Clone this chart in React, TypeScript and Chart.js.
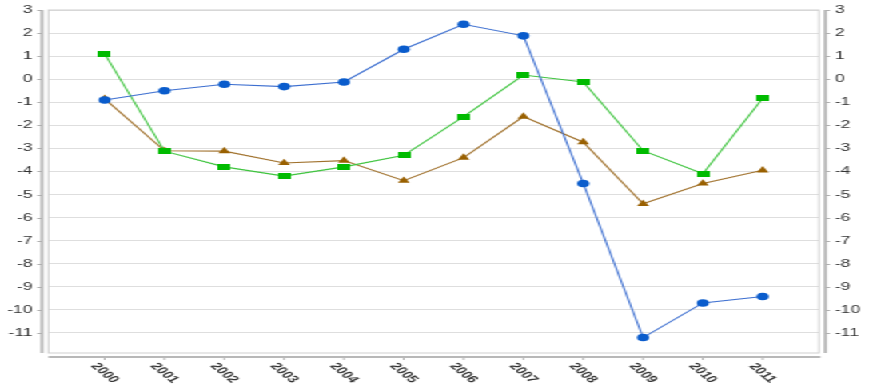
import React, { useEffect, useRef } from "react";
import { Chart, registerables } from "chart.js";

Chart.register(...registerables);

const years = ["2000", "2001", "2002", "2003", "2004", "2005", "2006", "2007", "2008", "2009", "2010", "2011"];
const blueValues = [-0.9, -0.5, -0.22, -0.32, -0.12, 1.3, 2.38, 1.88, -4.52, -11.2, -9.7, -9.42];
const greenValues = [1.1, -3.12, -3.8, -4.2, -3.8, -3.3, -1.62, 0.18, -0.12, -3.1, -4.1, -0.83];
const brownValues = [-0.85, -3.1, -3.12, -3.63, -3.53, -4.4, -3.4, -1.62, -2.73, -5.4, -4.52, -3.95];
const yTicks = [3, 2, 1, 0, -1, -2, -3, -4, -5, -6, -7, -8, -9, -10, -11];

const W = 546;
const H = 390;
const STRETCH = 873 / W;

function rectMarker(w: number, h: number, color: string) {
  const c = document.createElement("canvas");
  c.width = w;
  c.height = h;
  const ctx = c.getContext("2d")!;
  ctx.fillStyle = color;
  ctx.fillRect(0, 0, w, h);
  return c;
}

const framePlugin = {
  id: "frame",
  beforeDatasetsDraw(chart: any) {
    const { ctx, chartArea } = chart;
    const { left, right, top, bottom } = chartArea;
    const x = chart.scales.x;
    const y = chart.scales.y;
    ctx.save();
    ctx.strokeStyle = "#cfcfcf";
    ctx.lineWidth = 1;
    ctx.strokeRect(left, top, right - left, bottom - top);
    ctx.strokeStyle = "#b8b8b8";
    ctx.lineWidth = 2;
    ctx.beginPath();
    ctx.moveTo(left - 4, top);
    ctx.lineTo(left - 4, bottom);
    ctx.moveTo(right + 4, top);
    ctx.lineTo(right + 4, bottom);
    ctx.moveTo(left, bottom + 4);
    ctx.lineTo(right + 1, bottom + 4);
    ctx.stroke();
    ctx.lineWidth = 1;
    ctx.strokeStyle = "#b0b0b0";
    ctx.beginPath();
    yTicks.forEach((v) => {
      const py = Math.round(y.getPixelForValue(v)) + 0.5;
      ctx.moveTo(left - 7, py);
      ctx.lineTo(left - 4, py);
      ctx.moveTo(right + 4, py);
      ctx.lineTo(right + 7, py);
    });
    years.forEach((_, i) => {
      const px = x.getPixelForValue(i);
      ctx.moveTo(px, bottom + 5);
      ctx.lineTo(px, bottom + 7);
    });
    ctx.stroke();
    ctx.restore();
  },
  afterDraw(chart: any) {
    const { ctx, chartArea } = chart;
    const x = chart.scales.x;
    ctx.save();
    ctx.fillStyle = "#333";
    ctx.font = "bold 10px 'Liberation Sans', Arial, sans-serif";
    ctx.textAlign = "center";
    ctx.textBaseline = "middle";
    years.forEach((label, i) => {
      const px = x.getPixelForValue(i);
      ctx.save();
      ctx.translate(px, chartArea.bottom + 20);
      ctx.rotate((52 * Math.PI) / 180);
      ctx.fillText(label, 0, 0);
      ctx.restore();
    });
    ctx.restore();
  },
};

export default function App() {
  const ref = useRef<HTMLCanvasElement>(null);
  useEffect(() => {
    const canvas = ref.current!;
    const toPts = (arr: number[]) => arr.map((v, i) => ({ x: i, y: v }));
    const yCommon = {
      type: "linear" as const,
      min: -11.87,
      max: 3,
      afterBuildTicks: (scale: any) => {
        scale.ticks = yTicks.map((v) => ({ value: v }));
      },
      border: { display: false },
      ticks: {
        color: "#333",
        padding: 10,
        font: { family: "'Liberation Sans', Arial, sans-serif", size: 11 },
      },
    };
    const chart = new Chart(canvas, {
      type: "line",
      data: {
        datasets: [
          {
            data: toPts(blueValues),
            borderColor: "#3d6fd0",
            backgroundColor: "#0a5ccc",
            borderWidth: 1.1,
            pointStyle: "circle",
            pointRadius: 3.8,
            pointBorderWidth: 0,
            pointBackgroundColor: "#0a5ccc",
          },
          {
            data: toPts(greenValues),
            borderColor: "#3fc43f",
            backgroundColor: "#00bb00",
            borderWidth: 1.1,
            pointStyle: rectMarker(8, 6, "#00bb00") as any,
            pointRadius: 4,
          },
          {
            data: toPts(brownValues),
            borderColor: "#a0712c",
            backgroundColor: "#996000",
            borderWidth: 1.1,
            pointStyle: "triangle",
            pointRadius: 4.3,
            pointBorderWidth: 0,
            pointBackgroundColor: "#996000",
          },
        ],
      },
      options: {
        animation: false,
        responsive: false,
        devicePixelRatio: 1,
        layout: { padding: { top: 10, left: 0, right: 0, bottom: 0 } },
        plugins: { legend: { display: false }, tooltip: { enabled: false } },
        scales: {
          x: {
            type: "linear",
            min: -0.94,
            max: 11.94,
            grid: { display: false },
            border: { display: false },
            ticks: { display: false },
            afterFit: (scale: any) => {
              scale.height = H - 353;
            },
          },
          y: {
            ...yCommon,
            position: "left",
            grid: { color: "#dedede", drawTicks: false, lineWidth: 1 },
            afterFit: (scale: any) => {
              scale.width = 30.3;
              scale.paddingTop = 0;
              scale.paddingBottom = 0;
            },
          },
          y2: {
            ...yCommon,
            position: "right",
            grid: { display: false, drawTicks: false },
            afterFit: (scale: any) => {
              scale.width = W - 512.2;
              scale.paddingTop = 0;
              scale.paddingBottom = 0;
            },
          },
        },
      } as any,
      plugins: [framePlugin],
    });
    return () => chart.destroy();
  }, []);
  return (
    <div
      style={{
        position: "fixed",
        left: 0,
        top: 0,
        width: W,
        height: H,
        transform: `scaleX(${STRETCH})`,
        transformOrigin: "0 0",
        background: "#fff",
      }}
    >
      <canvas ref={ref} width={W} height={H} style={{ display: "block", width: W, height: H }} />
    </div>
  );
}
